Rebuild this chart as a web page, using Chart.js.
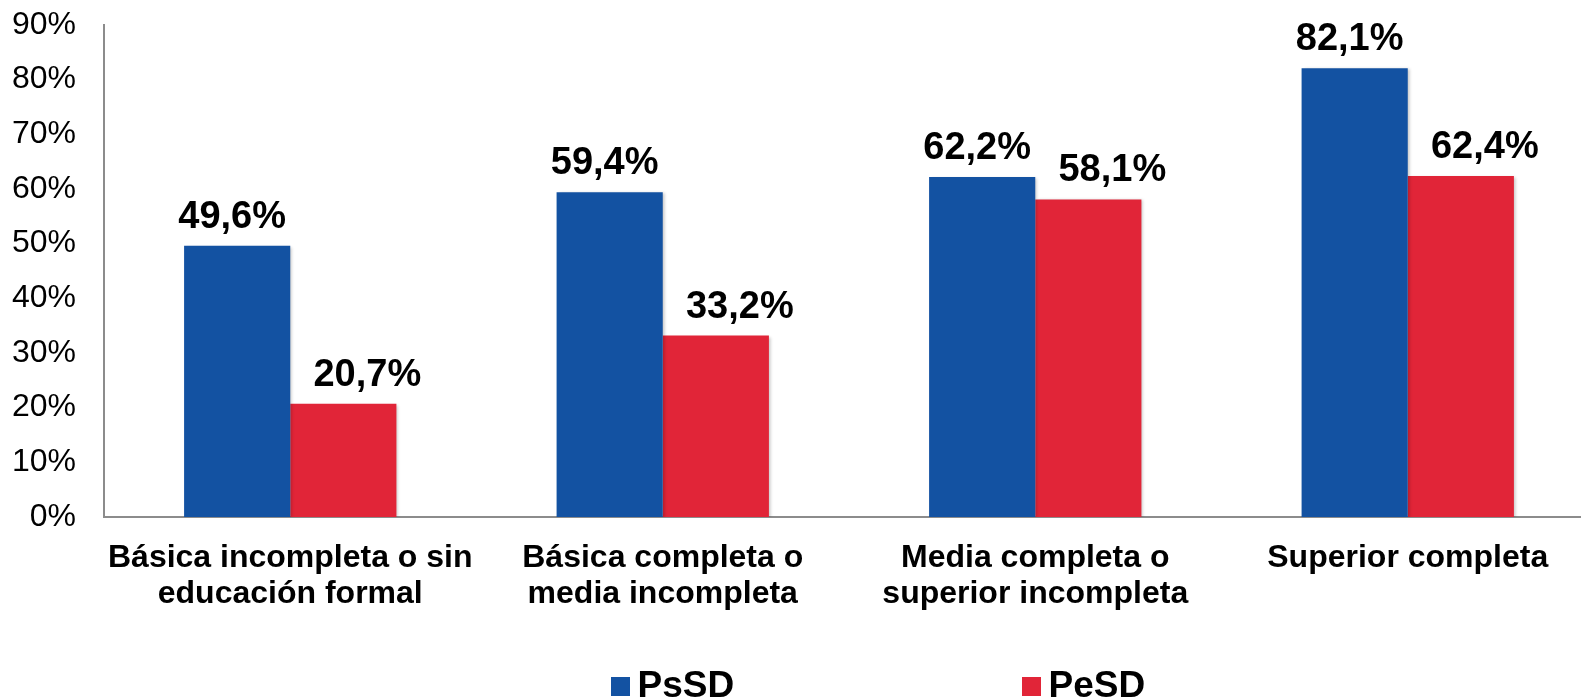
<!DOCTYPE html>
<html>
<head>
<meta charset="utf-8">
<script src="https://cdn.jsdelivr.net/npm/chart.js@4.4.1/dist/chart.umd.min.js"></script>
<style>
  html, body { margin: 0; padding: 0; background: #fff; overflow: hidden; }
  #wrap { width: 1600px; height: 700px; }
</style>
</head>
<body>
<div id="wrap"><canvas id="chart" width="1600" height="700"></canvas></div>
<script>
// Datos
const categories = [
  ['Básica incompleta o sin', 'educación formal'],
  ['Básica completa o', 'media incompleta'],
  ['Media completa o', 'superior incompleta'],
  ['Superior completa']
];
const seriesNames = ['PsSD', 'PeSD'];
const psSD = [49.6, 59.4, 62.2, 82.1];
const peSD = [20.7, 33.2, 58.1, 62.4];
const yMin = 0, yMax = 90, yStep = 10;

const BLUE = '#1352A2';
const RED = '#E12538';
const FONT = '"Liberation Sans", Arial, Helvetica, sans-serif';

Chart.defaults.font.family = FONT;
Chart.defaults.color = '#000';

const fmt = v => v.toFixed(1).replace('.', ',') + '%';

// sombra suave bajo las barras
const barShadow = {
  id: 'barShadow',
  beforeDatasetsDraw(chart) {
    const ctx = chart.ctx;
    ctx.save();
    ctx.shadowColor = 'rgba(0,0,0,0.22)';
    ctx.shadowBlur = 3;
    ctx.shadowOffsetX = 2;
    ctx.shadowOffsetY = 1;
  },
  afterDatasetsDraw(chart) {
    chart.ctx.restore();
  }
};

// etiquetas de valor sobre cada barra (las rojas un poco corridas a la derecha)
const labelShift = [-5, 24];
const valueLabels = {
  id: 'valueLabels',
  afterDatasetsDraw(chart) {
    const ctx = chart.ctx;
    ctx.save();
    ctx.font = 'bold 38px ' + FONT;
    ctx.fillStyle = '#000';
    ctx.textAlign = 'center';
    ctx.textBaseline = 'alphabetic';
    chart.data.datasets.forEach((ds, i) => {
      chart.getDatasetMeta(i).data.forEach((bar, j) => {
        ctx.fillText(fmt(ds.data[j]), bar.x + labelShift[i], bar.y - 18);
      });
    });
    ctx.restore();
  }
};

// leyenda abajo, con mucho espacio entre las dos entradas
const wideLegend = {
  id: 'wideLegend',
  afterDraw(chart) {
    const ctx = chart.ctx;
    const spots = [611, 1022];
    ctx.save();
    ctx.font = 'bold 37px ' + FONT;
    ctx.textBaseline = 'alphabetic';
    ctx.textAlign = 'left';
    chart.data.datasets.forEach((ds, i) => {
      const x = spots[i];
      ctx.fillStyle = ds.backgroundColor;
      ctx.fillRect(x, 677, 19, 19);
      ctx.fillStyle = '#000';
      ctx.fillText(ds.label, x + 26.5, 697);
    });
    ctx.restore();
  }
};

const data = {
  labels: categories,
  datasets: [
    { label: seriesNames[0], data: psSD, backgroundColor: BLUE },
    { label: seriesNames[1], data: peSD, backgroundColor: RED }
  ]
};

const config = {
  type: 'bar',
  data: data,
  options: {
    responsive: false,
    animation: false,
    devicePixelRatio: 1,
    layout: { padding: { top: 25, right: 6, bottom: 0, left: 0 } },
    datasets: {
      bar: { categoryPercentage: 0.57, barPercentage: 1.0, borderWidth: 0 }
    },
    plugins: {
      legend: { display: false },
      tooltip: { enabled: false }
    },
    scales: {
      x: {
        grid: { display: false, drawTicks: false },
        border: { display: true, color: '#8c8c8c', width: 2 },
        ticks: {
          font: { size: 32, weight: 'bold', lineHeight: 1.1 },
          padding: 24,
          maxRotation: 0,
          minRotation: 0,
          autoSkip: false
        },
        afterFit: s => { s.height = 183; }
      },
      y: {
        min: yMin,
        max: yMax,
        grid: { display: false, drawTicks: false },
        border: { display: true, color: '#8c8c8c', width: 2 },
        ticks: {
          stepSize: yStep,
          font: { size: 32, lineHeight: 1.2 },
          padding: 28,
          callback: v => v + '%'
        },
        afterFit: s => {
          s.width = 104;
          s.paddingTop = 0;
          s.paddingBottom = 0;
        }
      }
    }
  },
  plugins: [barShadow, valueLabels, wideLegend]
};

const ctx = document.getElementById('chart').getContext('2d');
const myChart = new Chart(ctx, config);
</script>
</body>
</html>
